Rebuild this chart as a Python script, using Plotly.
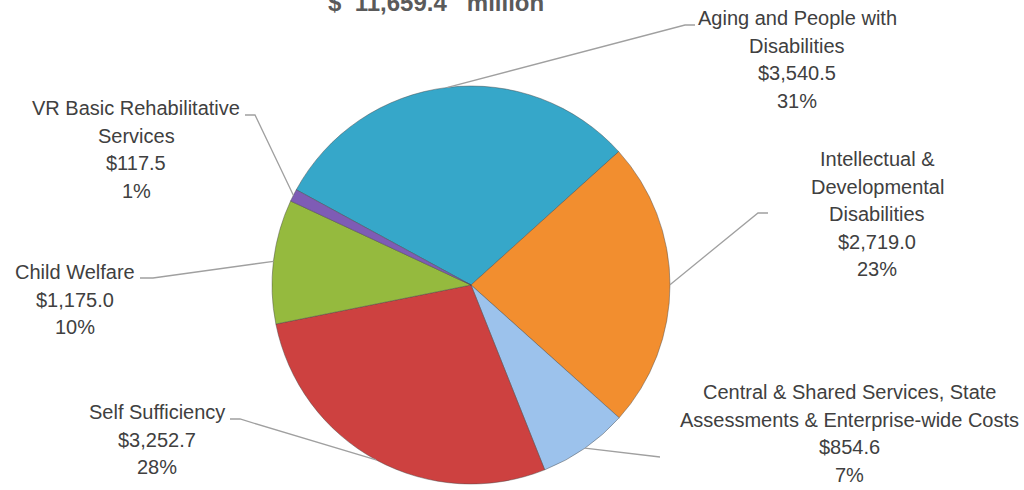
import math
import plotly.graph_objects as go

# ---- data ----
category_lines = [
    ["Aging and People with", "Disabilities"],
    ["Intellectual &", "Developmental", "Disabilities"],
    ["Central & Shared Services, State", "Assessments & Enterprise-wide Costs"],
    ["Self Sufficiency"],
    ["Child Welfare"],
    ["VR Basic Rehabilitative", "Services"],
]
values = [3540.5, 2719.0, 854.6, 3252.7, 1175.0, 117.5]
pct_labels = ["31%", "23%", "7%", "28%", "10%", "1%"]
total_label = "$\u00a0\u00a011,659.4\u00a0\u00a0\u00a0million"

colors = ["#36A7C9", "#F28E2F", "#9CC2EC", "#CD4140", "#95BA3E", "#7E5CB5"]

# ---- layout constants (pixels) ----
W, H = 1024, 490
CX, CY, R = 471, 285, 199
ROTATION = -61.4

# label block: centre x, first line centre y
label_pos = [(797, 18), (877, 159), (849, 392), (157, 412), (75, 272), (136, 108)]
LINE_STEP = 27.5
# leader elbows and ends
leader_pts = [
    ((685, 25), (695, 25)),
    ((758, 213), (768, 213)),
    ((660, 457), (660, 457)),
    ((240, 419), (230, 419)),
    ((153, 278), (140, 278)),
    ((255, 115), (245, 115)),
]

def px(x):
    return x / W

def py(y):
    return 1 - y / H

names = [" ".join(l) for l in category_lines]

fig = go.Figure()
fig.add_trace(go.Pie(
    labels=names,
    values=values,
    sort=False,
    direction="clockwise",
    rotation=ROTATION,
    marker=dict(colors=colors, line=dict(color="rgba(70,70,70,0.45)", width=1)),
    textinfo="none",
    hoverinfo="label+value",
    showlegend=False,
    domain=dict(x=[px(CX - R), px(CX + R)], y=[py(CY + R), py(CY - R)]),
))

annotations = []
shapes = []
total = sum(values)
cum = 0.0
label_font = dict(family="Liberation Sans, Arial, sans-serif", size=20, color="#404040")
for i, v in enumerate(values):
    mid_frac = (cum + v / 2) / total
    cum += v
    ang = math.radians(ROTATION + mid_frac * 360)
    sx = CX + R * math.sin(ang)
    sy = CY - R * math.cos(ang)
    (ex1, ey1), (ex2, ey2) = leader_pts[i]
    shapes.append(dict(
        type="path", xref="paper", yref="paper",
        path=f"M {px(sx)} {py(sy)} L {px(ex1)} {py(ey1)} L {px(ex2)} {py(ey2)}",
        line=dict(color="#A0A0A0", width=1.3),
    ))
    lines = category_lines[i] + [f"${v:,.1f}", pct_labels[i]]
    lx, ly = label_pos[i]
    for j, t in enumerate(lines):
        annotations.append(dict(
            text=t, xref="paper", yref="paper",
            x=px(lx), y=py(ly + j * LINE_STEP),
            xanchor="center", yanchor="middle",
            showarrow=False, font=label_font,
        ))

annotations.append(dict(
    text=f"<b>{total_label}</b>", xref="paper", yref="paper",
    x=px(436), y=py(18), xanchor="center", yanchor="bottom",
    showarrow=False,
    font=dict(family="Liberation Sans, Arial, sans-serif", size=24, color="#5A5A5A"),
))

fig.update_layout(
    width=W, height=H,
    margin=dict(l=0, r=0, t=0, b=0),
    paper_bgcolor="white",
    plot_bgcolor="white",
    annotations=annotations,
    shapes=shapes,
)

fig.write_html("out.html")
